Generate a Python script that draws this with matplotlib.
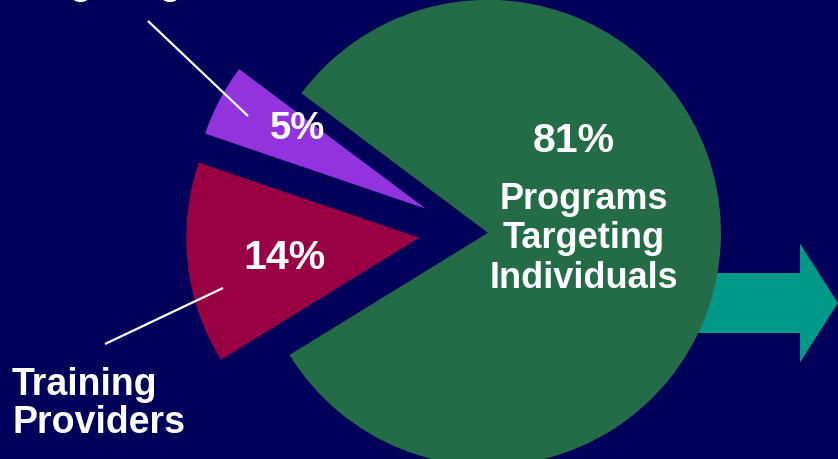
import matplotlib.pyplot as plt
import matplotlib.patches as mpatches

# slices, counter-clockwise from the lower edge of the big green one
labels = ["Programs\nTargeting\nIndividuals", "", ""]
shares = [81, 5, 14]
colors = ["#246b48", "#9333dd", "#990044"]
explode = [18, 50, 51]

BG = "#00005a"
H = 460  # picture height in px, used to flip y


def Y(y):
    return H - y


fig = plt.figure(figsize=(8.38, 4.6), dpi=100, facecolor=BG)
ax = fig.add_axes([0, 0, 1, 1])
ax.set_facecolor(BG)

# teal arrow sticking out behind the green slice
arrow = mpatches.FancyArrow(690, Y(304), 148, 0, width=60, head_width=119,
                            head_length=38, length_includes_head=True,
                            color="#009988", lw=0, zorder=0.5)
ax.add_patch(arrow)

wedges, _ = ax.pie(shares, colors=colors, startangle=211.6, counterclock=True,
                   explode=explode, radius=233, center=(470, Y(233)),
                   frame=True, wedgeprops=dict(linewidth=0))

ax.set_xlim(0, 838)
ax.set_ylim(0, H)
ax.set_aspect("equal")
ax.axis("off")

font = "Liberation Sans"
txt = dict(color="white", fontweight="bold", family=font, ha="center", va="center")

# percentages
ax.text(574, Y(141), f"{shares[0]}%", fontsize=29.5, **txt)
ax.text(297, Y(129), f"{shares[1]}%", fontsize=27.5, **txt)
ax.text(284, Y(258), f"{shares[2]}%", fontsize=29.5, **txt)

ax.text(584, Y(239), labels[0], fontsize=26, linespacing=1.16, **txt)

# outside labels and leader lines
ax.text(12, Y(404), "Training\nProviders", fontsize=27, color="white",
        fontweight="bold", family=font, ha="left", va="center", linespacing=1.06)
# label above the picture, only its descenders peek in
ax.text(15, Y(-6.5), "Targeting", fontsize=27, color="white",
        fontweight="bold", family=font, ha="left", va="baseline")

ax.plot([148, 248], [Y(22), Y(117)], color="white", lw=1.6, solid_capstyle="butt")
ax.plot([105, 223], [Y(345), Y(289)], color="white", lw=1.6, solid_capstyle="butt")

fig.savefig("out.png", dpi=100, facecolor=BG)
